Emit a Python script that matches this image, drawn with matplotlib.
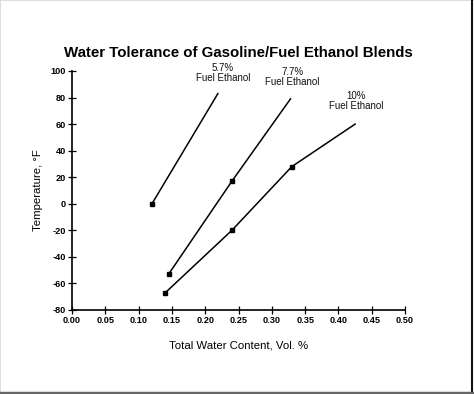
import matplotlib.pyplot as plt
from matplotlib.lines import Line2D

# data
x_57 = [0.12, 0.219]
y_57 = [0, 83]
x_77 = [0.145, 0.24, 0.328]
y_77 = [-53, 17, 79]
x_10 = [0.14, 0.24, 0.33, 0.425]
y_10 = [-67, -20, 28, 60]

# which points carry a marker (the last point only runs up to the label)
n_marked_57 = 1
n_marked_77 = 2
n_marked_10 = 3

x_ticks = [0.00, 0.05, 0.10, 0.15, 0.20, 0.25, 0.30, 0.35, 0.40, 0.45, 0.50]
y_ticks = [-80, -60, -40, -20, 0, 20, 40, 60, 80, 100]

labels = ['5.7%\nFuel Ethanol', '7.7%\nFuel Ethanol', '10%\nFuel Ethanol']
label_pos = [(0.2265, 91), (0.331, 88), (0.427, 70)]

plt.rcParams['font.family'] = ['Liberation Sans', 'DejaVu Sans']

fig = plt.figure(figsize=(4.74, 3.94), dpi=100)
ax = fig.add_axes([0.152, 0.2132, 0.7025, 0.6066])

for xs, ys, n in [(x_57, y_57, n_marked_57), (x_77, y_77, n_marked_77), (x_10, y_10, n_marked_10)]:
    ax.plot(xs, ys, color='black', linewidth=1.1)
    ax.plot(xs[:n], ys[:n], linestyle='none', marker='s', markersize=3.2, color='black')

for text, (tx, ty) in zip(labels, label_pos):
    ax.text(tx, ty, text, ha='center', va='bottom', fontsize=7.0,
            linespacing=0.95, color='#111111')

ax.set_xlim(0, 0.5)
ax.set_ylim(-80, 100)
ax.set_xticks(x_ticks)
ax.set_yticks(y_ticks)
ax.set_xticklabels([f'{v:.2f}' for v in x_ticks], fontsize=6.6, fontweight='bold')
ax.set_yticklabels([str(v) for v in y_ticks], fontsize=6.6, fontweight='bold')
ax.tick_params(direction='inout', length=6, width=0.9, pad=1.5)

ax.spines['top'].set_visible(False)
ax.spines['right'].set_visible(False)
ax.spines['left'].set_linewidth(1.2)
ax.spines['bottom'].set_linewidth(1.2)

ax.set_xlabel('Total Water Content, Vol. %', fontsize=8.2, labelpad=11)
ax.set_ylabel('Temperature, °F', fontsize=8.2, labelpad=5)

fig.text(0.502, 0.866, 'Water Tolerance of Gasoline/Fuel Ethanol Blends',
         ha='center', va='center', fontsize=10.8, fontweight='bold')

# scan frame around the picture
fig.add_artist(Line2D([0.001, 0.001], [0, 1], transform=fig.transFigure, color='#d8d8d8', linewidth=1.2))
fig.add_artist(Line2D([0, 1], [0.999, 0.999], transform=fig.transFigure, color='#d8d8d8', linewidth=1.2))
fig.add_artist(Line2D([0.9965, 0.9965], [0, 1], transform=fig.transFigure, color='#111111', linewidth=1.5))
fig.add_artist(Line2D([0, 1], [0.003, 0.003], transform=fig.transFigure, color='#666666', linewidth=2.5))

fig.savefig('out.png', dpi=100)
